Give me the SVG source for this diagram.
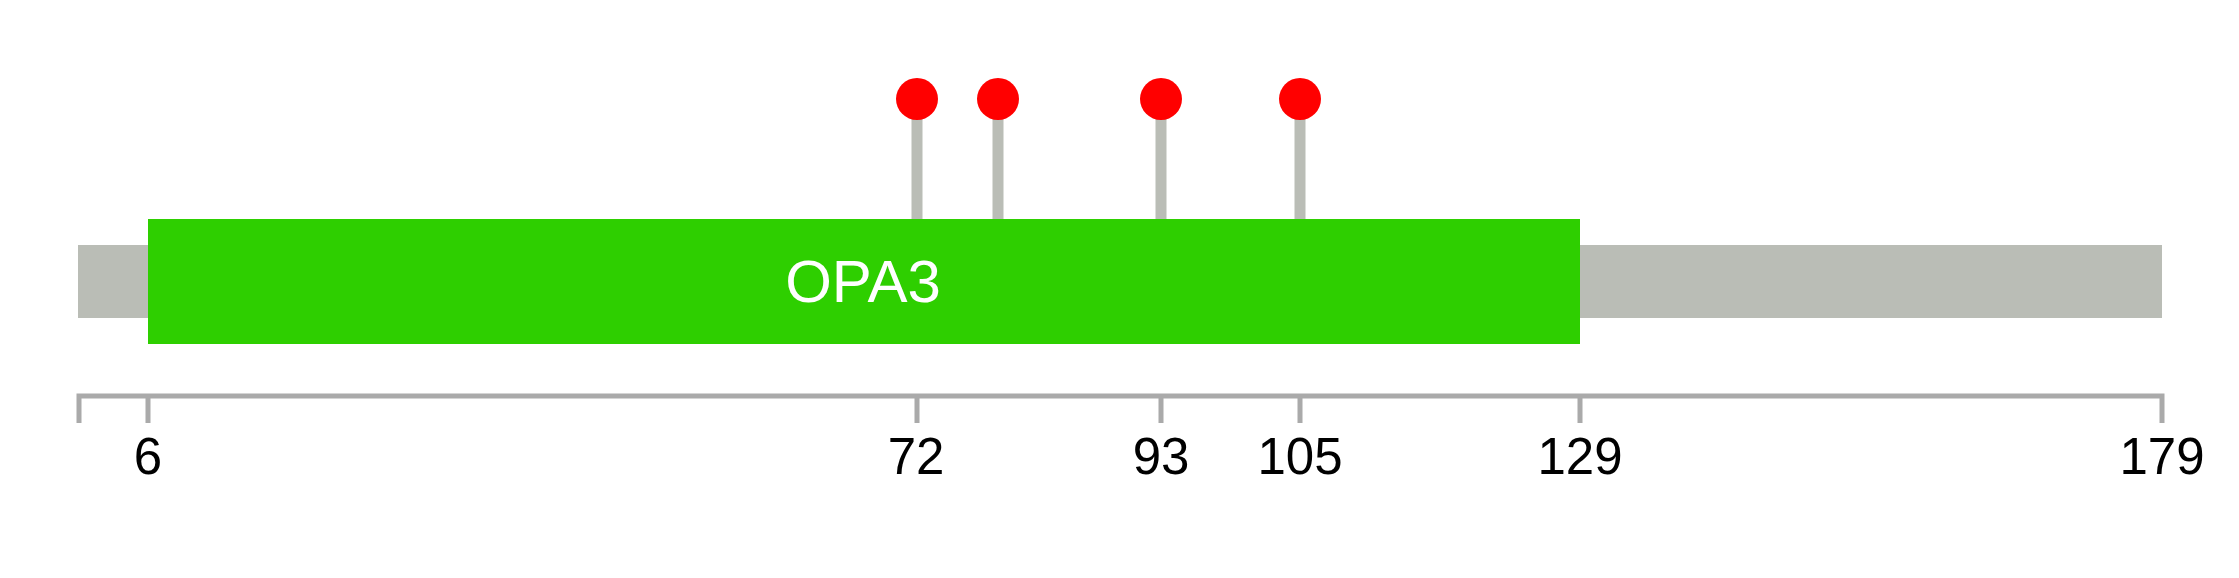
<svg xmlns="http://www.w3.org/2000/svg" width="2239" height="578" viewBox="0 0 2239 578">
<style>
.lbl{font-family:"Liberation Sans",Arial,sans-serif;font-size:51px;fill:#000;text-anchor:middle}
.dom{font-family:"Liberation Sans",Arial,sans-serif;font-size:60px;fill:#fff;text-anchor:middle}
.stem{stroke:#babdb6;stroke-width:11}
.dot{fill:#ff0000}
.axis{stroke:#aaaaaa;stroke-width:5;fill:none}
</style>
<rect width="2239" height="578" fill="#fff"/>
<g id="backbone"><rect x="78" y="245" width="2084" height="73" fill="#babdb6"/></g>
<g id="connectors">
<line class="stem" x1="917" y1="219" x2="917" y2="100"/>
<line class="stem" x1="998" y1="219" x2="998" y2="100"/>
<line class="stem" x1="1161" y1="219" x2="1161" y2="100"/>
<line class="stem" x1="1300" y1="219" x2="1300" y2="100"/>
</g>
<g id="domain-OPA3">
<rect x="148" y="219" width="1432" height="125" fill="#2ecf00"/>
<text class="dom" x="863" y="302">OPA3</text>
</g>
<g id="site-1"><circle class="dot" cx="917" cy="99" r="21"/></g>
<g id="site-2"><circle class="dot" cx="998" cy="99" r="21"/></g>
<g id="site-3"><circle class="dot" cx="1161" cy="99" r="21"/></g>
<g id="site-4"><circle class="dot" cx="1300" cy="99" r="21"/></g>
<g id="axis">
<path class="axis" d="M79,423 V396 H2162 V423"/>
<path class="axis" d="M148,396 V423 M917,396 V423 M1161,396 V423 M1300,396 V423 M1580,396 V423"/>
<text class="lbl" x="148" y="474">6</text>
<text class="lbl" x="916" y="474">72</text>
<text class="lbl" x="1161" y="474">93</text>
<text class="lbl" x="1300" y="474">105</text>
<text class="lbl" x="1580" y="474">129</text>
<text class="lbl" x="2162" y="474">179</text>
</g>
</svg>
